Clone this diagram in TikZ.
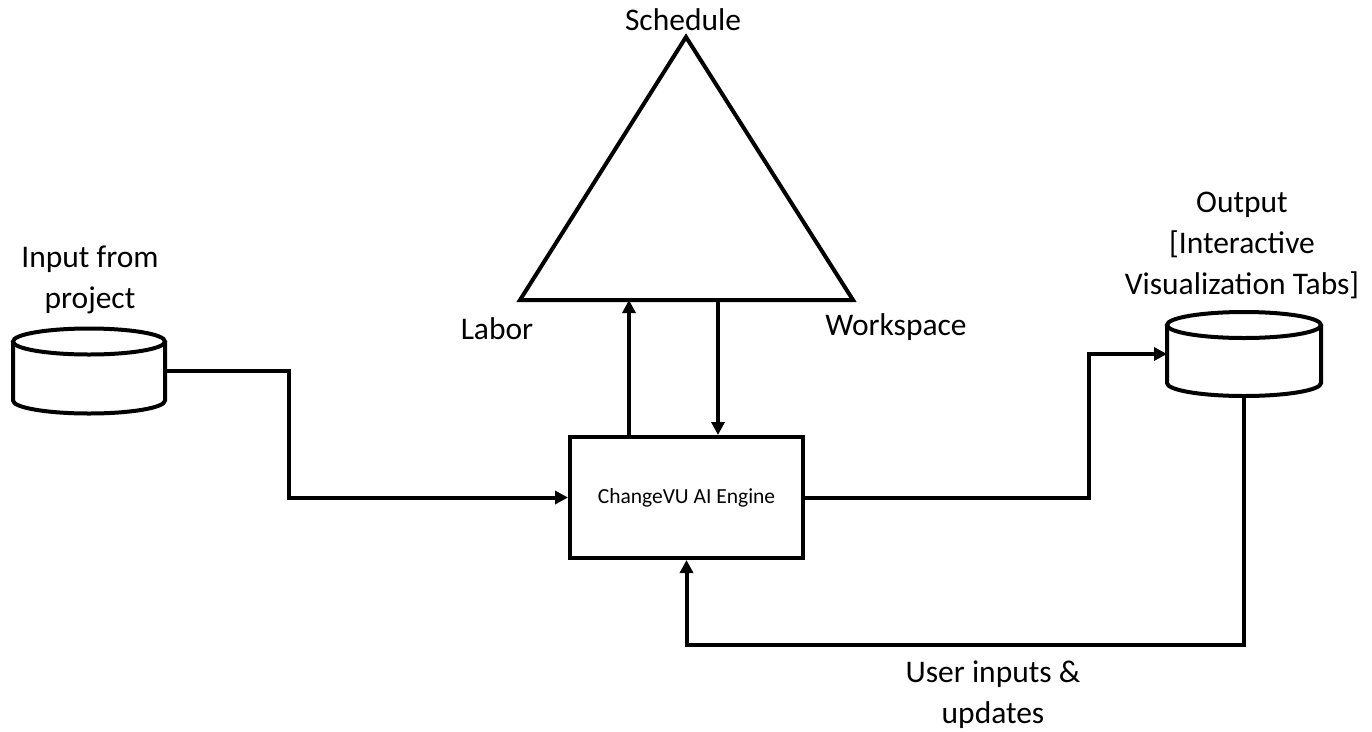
\documentclass[tikz,border=0pt]{standalone}
\usepackage{fontspec}
\setmainfont{Carlito}
\usetikzlibrary{arrows.meta,calc}
\tikzset{
  ln/.style={line width=4pt, draw=black},
  arr/.style={ln, -{Triangle[length=13pt,width=13pt]}},
  lbl/.style={font=\fontsize{31.5}{41}\selectfont, align=center, inner sep=0pt},
}
\begin{document}
\begin{tikzpicture}[x=1pt,y=-1pt]
\useasboundingbox (0,0) rectangle (1372,731);
% triangle
\coordinate (tA) at (686,37);
\coordinate (tB) at (520,300);
\coordinate (tC) at (853,300);
\draw[ln, line join=miter] (tA) -- (tB) -- (tC) -- cycle;
\coordinate (t1) at (629,300);
\coordinate (t2) at (718,300);
\node[lbl] (sched) at (683,20) {Schedule};
\node[lbl] (labor) at (497,329) {Labor};
\node[lbl] (work) at (896,327) {Workspace};
% engine box
\node[ln, draw, minimum width=233pt, minimum height=121pt, inner sep=0pt,
      font=\fontsize{21.5}{26}\selectfont] (box) at (686.5,497.5) {ChangeVU AI Engine};
% left cylinder
\node[minimum width=152pt, minimum height=85pt, inner sep=0pt, outer sep=0pt] (lc) at (89,371) {};
\draw[ln, fill=white] ($(lc.north)+(0,13)$) ellipse [x radius=76, y radius=13];
\draw[ln] ($(lc.north west)+(0,13)$) -- ($(lc.south west)+(0,-13)$)
   arc[start angle=180, end angle=0, x radius=76, y radius=13]
   -- ($(lc.north east)+(0,13)$);
\node[lbl] (lclab) at (90,280) {Input from\\project};
% right cylinder
\node[minimum width=154pt, minimum height=84pt, inner sep=0pt, outer sep=0pt] (rc) at (1244,354) {};
\draw[ln, fill=white] ($(rc.north)+(0,13)$) ellipse [x radius=77, y radius=13];
\draw[ln] ($(rc.north west)+(0,13)$) -- ($(rc.south west)+(0,-13)$)
   arc[start angle=180, end angle=0, x radius=77, y radius=13]
   -- ($(rc.north east)+(0,13)$);
\node[lbl] (rclab) at (1242,245) {Output\\{}[Interactive\\Visualization Tabs]};
% connectors
\draw[arr] (lc.east) -| (289,497.5) -- (box.west);
\draw[arr] (box.north -| t1) -- (t1);
\draw[arr] (t2) -- (box.north -| t2);
\draw[arr] (box.east) -| (1089,354) -- (rc.west);
\draw[arr] (rc.south) |- (box.south |- 0,645) -- (box.south);
\node[lbl] (ulab) at (993,695) {User inputs \&\\updates};
\end{tikzpicture}
\end{document}
